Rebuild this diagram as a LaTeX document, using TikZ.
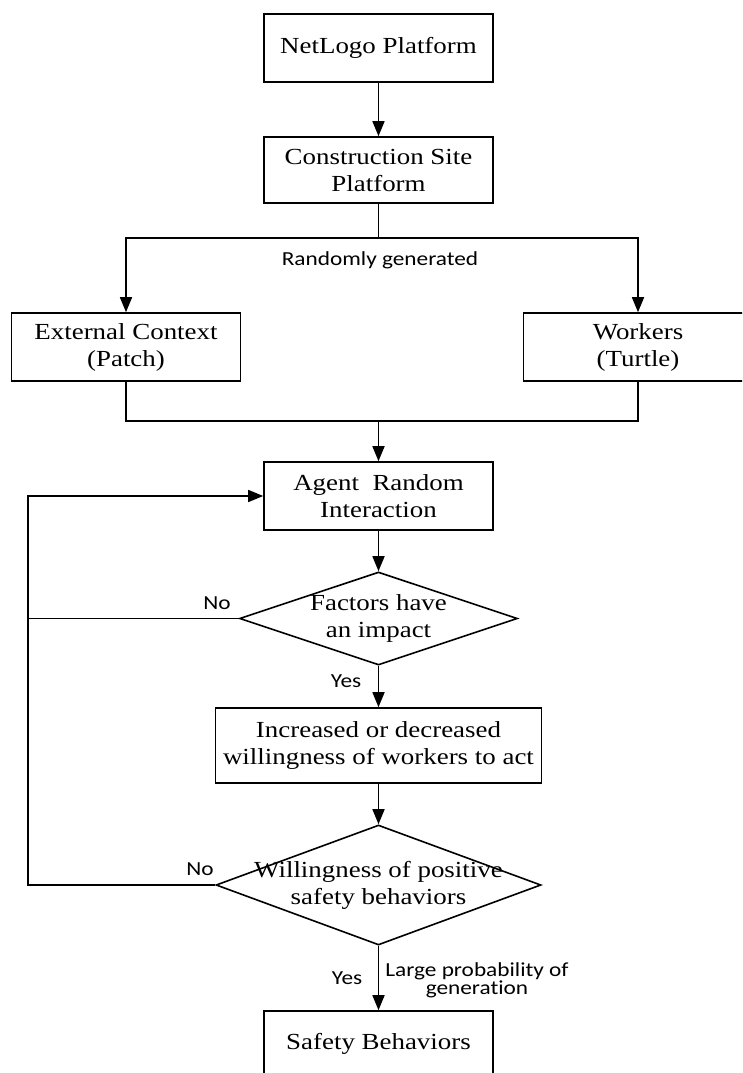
\documentclass[tikz,border=0pt]{standalone}
\usepackage{fontspec}
\usetikzlibrary{shapes.geometric,arrows.meta}
\newfontfamily\boxfont[FakeStretch=1.17]{Liberation Serif}
\newfontfamily\labfont[FakeStretch=1.17,Ligatures=NoCommon]{Carlito}
\tikzset{
  box/.style={draw, line width=1.6pt, rectangle, inner sep=0pt, align=center,
    font={\boxfont\fontsize{23}{27}\selectfont}},
  dia/.style={draw, line width=1.6pt, diamond, inner sep=0pt},
  diatext/.style={align=center, inner sep=0pt, font={\boxfont\fontsize{23}{27}\selectfont}},
  lab/.style={inner sep=0pt, align=center, font={\labfont\fontsize{19.9}{16}\selectfont}},
  conn/.style={line width=1.6pt},
  arr/.style={line width=1.6pt, -{Triangle[length=15pt,width=12pt]}}
}
\begin{document}
\begin{tikzpicture}[x=1pt,y=-1pt]
\useasboundingbox (0,0) rectangle (742,1073);
\clip (0,0) rectangle (742,1073);
\fill[white] (0,0) rectangle (742,1073);
% nodes
\node[box, minimum width=229pt, minimum height=68pt] (net) at (378.5,48) {NetLogo Platform};
\node[box, minimum width=229pt, minimum height=66pt] (cons) at (378.5,170) {Construction Site\\Platform};
\node[box, minimum width=229pt, minimum height=68pt] (ext) at (126,347) {External Context\\(Patch)};
\node[box, minimum width=229pt, minimum height=68pt] (wrk) at (638,347) {Workers\\(Turtle)};
\node[box, minimum width=229pt, minimum height=68pt] (agent) at (378.5,496) {Agent\ \ Random\\Interaction};
\node[dia, minimum width=278pt, minimum height=93pt] (fac) at (378.5,618.5) {};
\node[diatext] (factext) at (fac.center) {Factors have\\an impact};
\node[box, minimum width=326pt, minimum height=75pt] (inc) at (378.5,745.5) {Increased or decreased\\willingness of workers to act};
\node[dia, minimum width=325pt, minimum height=120pt] (wil) at (378.5,885) {};
\node[diatext] (wiltext) at (wil.center) {Willingness of positive\\safety behaviors};
\node[box, minimum width=229pt, minimum height=66pt] (saf) at (378.5,1044) {Safety Behaviors};
% helper coordinates
\coordinate (split) at (378.5,238);
\coordinate (merge) at (378.5,421);
\coordinate (loopT) at (28,496);
\coordinate (loopM) at (27,618.5);
\coordinate (loopB) at (28,885);
% connectors
\draw[arr] (net.south) -- (cons.north);
\draw[conn] (cons.south) -- (split);
\draw[arr] (split) -| (ext.north);
\draw[arr] (split) -| (wrk.north);
\draw[conn] (ext.south) |- (merge) -| (wrk.south);
\draw[arr] (merge) -- (agent.north);
\draw[arr] (agent.south) -- (fac.north);
\draw[arr] (fac.south) -- (inc.north);
\draw[arr] (inc.south) -- (wil.north);
\draw[arr] (wil.south) -- (saf.north);
\draw[arr] (wil.west) -- (loopB) -- (loopT) -- (agent.west);
\draw[conn] (fac.west) -- (loopM);
% labels
\node[lab] (lrand) at (380,260) {Randomly generated};
\node[lab] (lno1) at (217,603) {No};
\node[lab] (lyes1) at (346,681) {Yes};
\node[lab] (lno2) at (200,869) {No};
\node[lab] (lyes2) at (347,978) {Yes};
\node[lab] (lprob) at (477,980) {Large probability of\\generation};
\end{tikzpicture}
\end{document}
